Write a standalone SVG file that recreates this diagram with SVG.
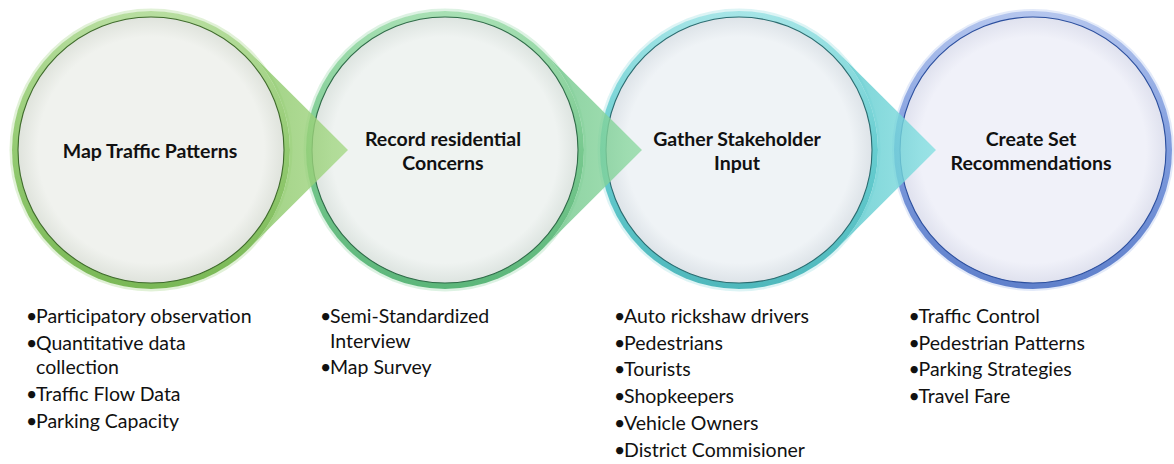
<svg xmlns="http://www.w3.org/2000/svg" width="1174" height="464" viewBox="0 0 1174 464">
<defs>
  <linearGradient id="rim1" x1="0" y1="0" x2="0" y2="1">
    <stop offset="0" stop-color="#b8dea0"/><stop offset="0.5" stop-color="#93ca71"/><stop offset="1" stop-color="#7ab856"/>
  </linearGradient>
  <linearGradient id="rim2" x1="0" y1="0" x2="0" y2="1">
    <stop offset="0" stop-color="#a8e0b4"/><stop offset="0.5" stop-color="#78c98f"/><stop offset="1" stop-color="#5cb67a"/>
  </linearGradient>
  <linearGradient id="rim3" x1="0" y1="0" x2="0" y2="1">
    <stop offset="0" stop-color="#a6e5e7"/><stop offset="0.5" stop-color="#66cdd0"/><stop offset="1" stop-color="#4fb8bc"/>
  </linearGradient>
  <linearGradient id="rim4" x1="0" y1="0" x2="0" y2="1">
    <stop offset="0" stop-color="#b5c6ee"/><stop offset="0.5" stop-color="#7e9bdd"/><stop offset="1" stop-color="#5f80cb"/>
  </linearGradient>
  <linearGradient id="ptr1" x1="0" y1="0" x2="1" y2="0">
    <stop offset="0" stop-color="#86c462"/><stop offset="1" stop-color="#a6d987"/>
  </linearGradient>
  <linearGradient id="ptr2" x1="0" y1="0" x2="1" y2="0">
    <stop offset="0" stop-color="#6cc487"/><stop offset="1" stop-color="#8fdaa3"/>
  </linearGradient>
  <linearGradient id="ptr3" x1="0" y1="0" x2="1" y2="0">
    <stop offset="0" stop-color="#55c6ca"/><stop offset="1" stop-color="#86e0e2"/>
  </linearGradient>
  <radialGradient id="face1" cx="0.5" cy="0.5" r="0.5">
    <stop offset="0.85" stop-color="#f0f2ee"/><stop offset="1" stop-color="#dfe3dc"/>
  </radialGradient>
  <radialGradient id="face2" cx="0.5" cy="0.5" r="0.5">
    <stop offset="0.85" stop-color="#eff3f1"/><stop offset="1" stop-color="#dde4e0"/>
  </radialGradient>
  <radialGradient id="face3" cx="0.5" cy="0.5" r="0.5">
    <stop offset="0.85" stop-color="#eff3f6"/><stop offset="1" stop-color="#dde3e8"/>
  </radialGradient>
  <radialGradient id="face4" cx="0.5" cy="0.5" r="0.5">
    <stop offset="0.85" stop-color="#f0f1f9"/><stop offset="1" stop-color="#dfe1ee"/>
  </radialGradient>
</defs>
<style>
  .title { font-family: Lato, "Liberation Sans", sans-serif; font-weight: 700; font-size: 19.5px; fill: #111; text-anchor: middle; }
  .item { font-family: Lato, "Liberation Sans", sans-serif; font-size: 19.5px; fill: #111; }
  .halo { fill: none; stroke-width: 3; stroke-opacity: 0.35; }
  .face { stroke-width: 1.1; }
  .ptr { fill-opacity: 0.8; }
</style>

<g id="node1">
  <circle class="halo" cx="151" cy="150" r="140" stroke="#a9d68c"/>
  <circle cx="151" cy="150" r="139" fill="url(#rim1)"/>
  <circle class="face" cx="151" cy="150" r="133" fill="url(#face1)" stroke="#3f6b2c"/>
  <text class="title" x="150" y="158">Map Traffic Patterns</text>
  <text class="item">
    <tspan x="26" y="323">•</tspan><tspan x="36" y="323">Participatory observation</tspan>
    <tspan x="26" y="349.7">•</tspan><tspan x="36" y="349.7">Quantitative data</tspan>
    <tspan x="36" y="374.2">collection</tspan>
    <tspan x="26" y="401">•</tspan><tspan x="36" y="401">Traffic Flow Data</tspan>
    <tspan x="26" y="427.7">•</tspan><tspan x="36" y="427.7">Parking Capacity</tspan>
  </text>
</g>

<g id="node2">
  <circle class="halo" cx="445" cy="150" r="140" stroke="#9ddbb0"/>
  <circle cx="445" cy="150" r="139" fill="url(#rim2)"/>
  <circle class="face" cx="445" cy="150" r="133" fill="url(#face2)" stroke="#2f6b48"/>
  <text class="title" x="443" y="146">Record residential</text>
  <text class="title" x="443" y="170">Concerns</text>
  <text class="item">
    <tspan x="320" y="323">•</tspan><tspan x="330" y="323">Semi-Standardized</tspan>
    <tspan x="330" y="347.5">Interview</tspan>
    <tspan x="320" y="374">•</tspan><tspan x="330" y="374">Map Survey</tspan>
  </text>
</g>

<g id="node3">
  <circle class="halo" cx="739" cy="150" r="140" stroke="#9de0e2"/>
  <circle cx="739" cy="150" r="139" fill="url(#rim3)"/>
  <circle class="face" cx="739" cy="150" r="133" fill="url(#face3)" stroke="#2b6c70"/>
  <text class="title" x="737" y="146">Gather Stakeholder</text>
  <text class="title" x="737" y="170">Input</text>
  <text class="item">
    <tspan x="614" y="323">•</tspan><tspan x="624" y="323">Auto rickshaw drivers</tspan>
    <tspan x="614" y="349.7">•</tspan><tspan x="624" y="349.7">Pedestrians</tspan>
    <tspan x="614" y="376.4">•</tspan><tspan x="624" y="376.4">Tourists</tspan>
    <tspan x="614" y="403">•</tspan><tspan x="624" y="403">Shopkeepers</tspan>
    <tspan x="614" y="429.8">•</tspan><tspan x="624" y="429.8">Vehicle Owners</tspan>
    <tspan x="614" y="456.5">•</tspan><tspan x="624" y="456.5">District Commisioner</tspan>
  </text>
</g>

<g id="node4">
  <circle class="halo" cx="1033" cy="150" r="139.5" stroke="#b0c2ee"/>
  <circle cx="1033" cy="150" r="139" fill="url(#rim4)"/>
  <circle class="face" cx="1033" cy="150" r="133" fill="url(#face4)" stroke="#2c4f9e"/>
  <text class="title" x="1031" y="146">Create Set</text>
  <text class="title" x="1031" y="170">Recommendations</text>
  <text class="item">
    <tspan x="908.5" y="323">•</tspan><tspan x="918.5" y="323">Traffic Control</tspan>
    <tspan x="908.5" y="349.7">•</tspan><tspan x="918.5" y="349.7">Pedestrian Patterns</tspan>
    <tspan x="908.5" y="376.4">•</tspan><tspan x="918.5" y="376.4">Parking Strategies</tspan>
    <tspan x="908.5" y="403">•</tspan><tspan x="918.5" y="403">Travel Fare</tspan>
  </text>
</g>

<g id="connectors">
  <path class="ptr" fill="url(#ptr1)" d="M249.08,51.5 L348,150 L249.08,248.5 A139,139 0 0 0 249.08,51.5 Z"/>
  <path class="ptr" fill="url(#ptr2)" d="M543.08,51.5 L642,150 L543.08,248.5 A139,139 0 0 0 543.08,51.5 Z"/>
  <path class="ptr" fill="url(#ptr3)" d="M837.08,51.5 L936,150 L837.08,248.5 A139,139 0 0 0 837.08,51.5 Z"/>
</g>
</svg>
